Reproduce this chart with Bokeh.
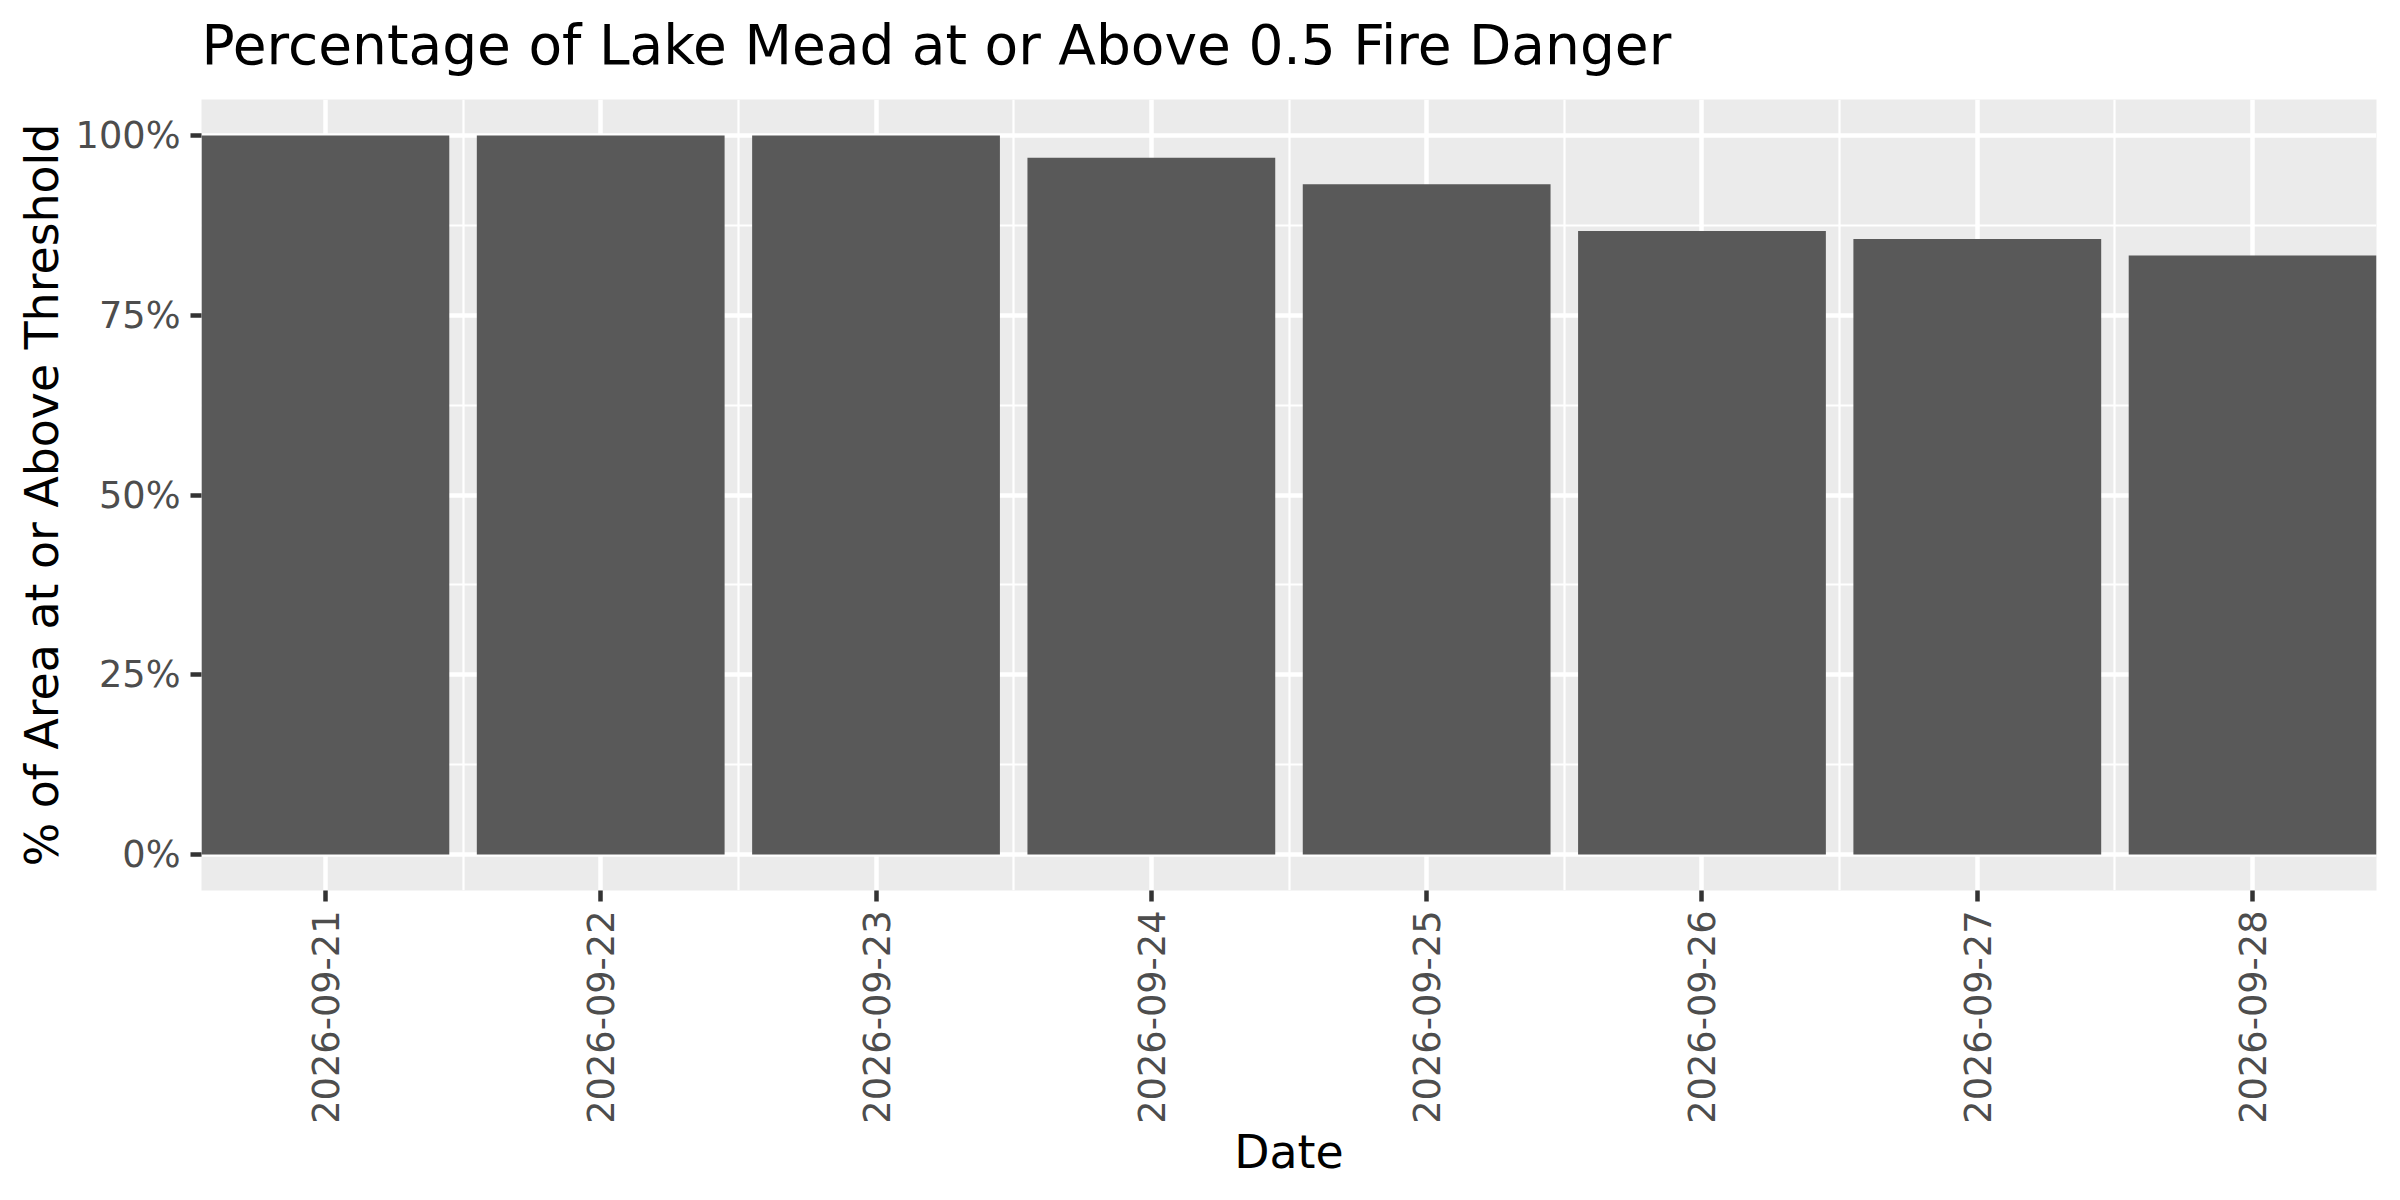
import math
import pandas as pd
from bokeh.plotting import figure
from bokeh.models import (ColumnDataSource, Range1d, FixedTicker, DatetimeTickFormatter,
                          NumeralTickFormatter, Title)
from bokeh.embed import file_html
from bokeh.resources import INLINE

# ---- data ----
dates = ["2026-09-21", "2026-09-22", "2026-09-23", "2026-09-24",
         "2026-09-25", "2026-09-26", "2026-09-27", "2026-09-28"]
pct_above = [1.000, 1.000, 1.000, 0.969, 0.932, 0.867, 0.856, 0.833]
y_ticks = [0.0, 0.25, 0.5, 0.75, 1.0]
y_minor = [0.125, 0.375, 0.625, 0.875]
title_text = "Percentage of Lake Mead at or Above 0.5 Fire Danger"
x_title = "Date"
y_title = "% of Area at or Above Threshold"

DAY = 86400000.0
dt = pd.to_datetime(dates)
xs = [d.value / 1e6 for d in dt]  # ms since epoch
src = ColumnDataSource(dict(x=xs, top=pct_above))

FONT = "DejaVu Sans"
BG = "#EBEBEB"
BAR = "#595959"

p = figure(width=2384, height=1184, output_backend="svg", toolbar_location=None,
           x_axis_type="datetime",
           x_range=Range1d(xs[0] - 0.45 * DAY, xs[-1] + 0.45 * DAY),
           y_range=Range1d(-0.05, 1.05),
           min_border_left=201, min_border_right=8, min_border_top=97,
           min_border_bottom=294)
p.background_fill_color = BG
p.border_fill_color = "white"
p.outline_line_color = None

p.vbar(x="x", top="top", bottom=0, width=0.9 * DAY, source=src,
       fill_color=BAR, line_color=None)

# title, with a thin blank spacer between it and the panel
p.add_layout(Title(text=" ", text_font_size="1px", standoff=10), "above")
p.title = Title(text=title_text, text_font=FONT, text_font_size="55px",
                text_font_style="normal", text_color="black", align="left",
                standoff=20)

# x axis
xminor = [x + 0.5 * DAY for x in xs[:-1]]
p.xaxis.ticker = FixedTicker(ticks=xs, minor_ticks=xminor)
fmt = "%Y-%m-%d"
p.xaxis.formatter = DatetimeTickFormatter(days=fmt, months=fmt, years=fmt, hours=fmt,
                                          hourmin=fmt, minutes=fmt, minsec=fmt,
                                          seconds=fmt, milliseconds=fmt,
                                          microseconds=fmt)
p.xaxis.major_label_orientation = math.pi / 2
p.xaxis.axis_label = x_title

# y axis
p.yaxis.ticker = FixedTicker(ticks=y_ticks, minor_ticks=y_minor)
p.yaxis.formatter = NumeralTickFormatter(format="0%")
p.yaxis.axis_label = y_title

for ax in (p.xaxis, p.yaxis):
    ax.axis_line_color = None
    ax.major_tick_line_color = "#333333"
    ax.major_tick_line_width = 4.5
    ax.major_tick_out = 11
    ax.major_tick_in = 0
    ax.minor_tick_line_color = None
    ax.major_label_text_font = FONT
    ax.major_label_text_font_size = "36.7px"
    ax.major_label_text_color = "#4D4D4D"
    ax.axis_label_text_font = FONT
    ax.axis_label_text_font_size = "45.8px"
    ax.axis_label_text_font_style = "normal"
    ax.axis_label_text_color = "black"

p.xaxis.major_label_standoff = 9
p.xaxis.axis_label_standoff = -2
p.yaxis.major_label_standoff = 10
p.yaxis.axis_label_standoff = 4

for g in (p.xgrid, p.ygrid):
    g.grid_line_color = "white"
    g.grid_line_width = 4.5
    g.minor_grid_line_color = "white"
    g.minor_grid_line_width = 2.2

open("out.html", "w").write(file_html(p, INLINE))
